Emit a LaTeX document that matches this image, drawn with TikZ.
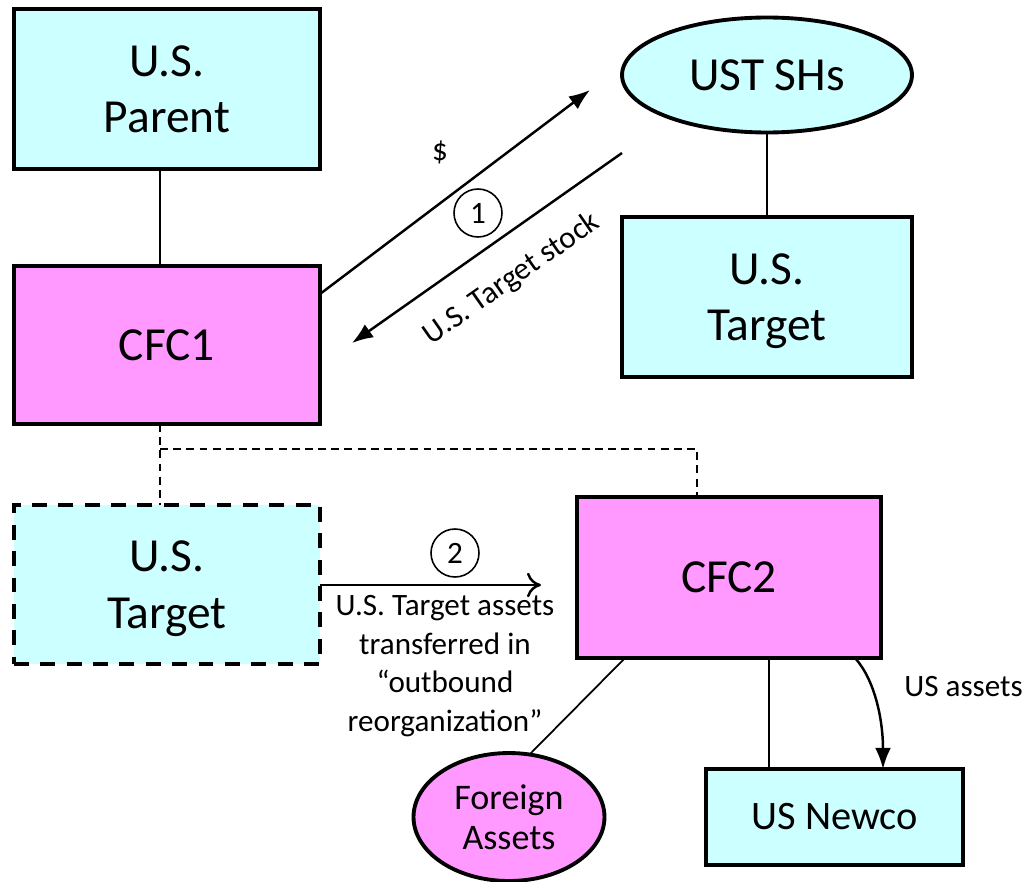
\documentclass[tikz,border=0pt]{standalone}
\usepackage{fontspec}
\setmainfont{Carlito}
\usetikzlibrary{arrows.meta,shapes.geometric}
\definecolor{cyanfill}{HTML}{CCFFFF}
\definecolor{magfill}{HTML}{FF99FF}
\begin{document}
\begin{tikzpicture}[x=0.02cm,y=-0.02cm,
  entity/.style={draw,line width=2.2pt,inner sep=0pt,outer sep=0pt,align=center,font=\fontsize{27}{32.3}\selectfont},
  cbox/.style={entity,fill=cyanfill},
  mbox/.style={entity,fill=magfill},
  conn/.style={line width=1pt},
  arr/.style={line width=1.4pt,-{Latex[length=12pt,width=9pt]}},
  lbl/.style={font=\fontsize{17.7}{22}\selectfont,align=center,inner sep=0pt},
  num/.style={circle,draw,line width=0.9pt,minimum size=0.96cm,inner sep=0pt,font=\fontsize{17.7}{20}\selectfont}]
\useasboundingbox (0,0) rectangle (1024,882);
% nodes
\node[cbox,minimum width=6.12cm,minimum height=3.2cm,text depth=0pt] (parent) at (167,89) {U.S.\\Parent};
\node[mbox,minimum width=6.12cm,minimum height=3.16cm] (cfc1) at (167,345) {CFC1};
\node[entity,fill=cyanfill,ellipse,minimum width=5.8cm,minimum height=2.3cm] (shs) at (767,75) {UST SHs};
\node[cbox,minimum width=5.8cm,minimum height=3.2cm,text depth=0pt] (ust) at (767,297) {U.S.\\Target};
\node[cbox,dashed,dash pattern=on 8.5pt off 6.5pt,minimum width=6.12cm,minimum height=3.18cm,text depth=0pt] (ustd) at (167,584.5) {U.S.\\Target};
\node[mbox,minimum width=6.08cm,minimum height=3.22cm] (cfc2) at (729,577.5) {CFC2};
\node[entity,fill=magfill,ellipse,minimum width=3.82cm,minimum height=2.56cm,font=\fontsize{20.5}{23}\selectfont,text depth=0pt] (fa) at (509,817) {Foreign\\Assets};
\node[cbox,minimum width=5.14cm,minimum height=1.92cm,font=\fontsize{23}{28}\selectfont] (newco) at (834.5,817) {US Newco};
% helper coordinates
\coordinate (x160) at (160,0);
\coordinate (x697) at (697,449);
\coordinate (y449) at (0,449);
\coordinate (a1s) at (320,294);
\coordinate (a1e) at (590,90);
\coordinate (a2s) at (622,153);
\coordinate (a2e) at (352,343);
\coordinate (x625) at (625,0);
\coordinate (fae) at (530,754);
\coordinate (x769) at (769,0);
\coordinate (cs) at (855,0);
\coordinate (ce) at (883,0);
% connectors
\draw[conn] (parent.south -| x160) -- (cfc1.north -| x160);
\draw[conn] (shs.south) -- (ust.north);
\draw[conn,dashed,dash pattern=on 4.5pt off 3pt] (cfc1.south -| x160) -- (ustd.north -| x160);
\draw[conn,dashed,dash pattern=on 4.5pt off 3pt] (x160 |- y449) -- (x697) -- (cfc2.north -| x697);
\draw[arr] (a1s) -- (a1e);
\draw[arr] (a2s) -- (a2e);
\node[lbl] (dollar) at (440,152) {\$};
\node[num] (n1) at (478,213) {1};
\node[lbl,rotate=35] (stock) at (512,279) {U.S. Target stock};
\draw[line width=1.4pt,-{To[length=8pt,width=14pt]}] (ustd.east |- 0,585) -- (541,585);
\node[num] (n2) at (455,553) {2};
\node[lbl] (trans) at (445,666) {U.S. Target assets\\transferred in\\“outbound\\reorganization”};
\draw[conn] (cfc2.south -| x625) -- (fae);
\draw[conn] (cfc2.south -| x769) -- (newco.north -| x769);
\draw[line width=1.4pt,-{Latex[length=12pt,width=9pt]}] (cfc2.south -| cs) .. controls (875,680) and (883,720) .. (newco.north -| ce);
\node[lbl,anchor=west] (usa) at (904,687) {US assets};
\end{tikzpicture}
\end{document}
